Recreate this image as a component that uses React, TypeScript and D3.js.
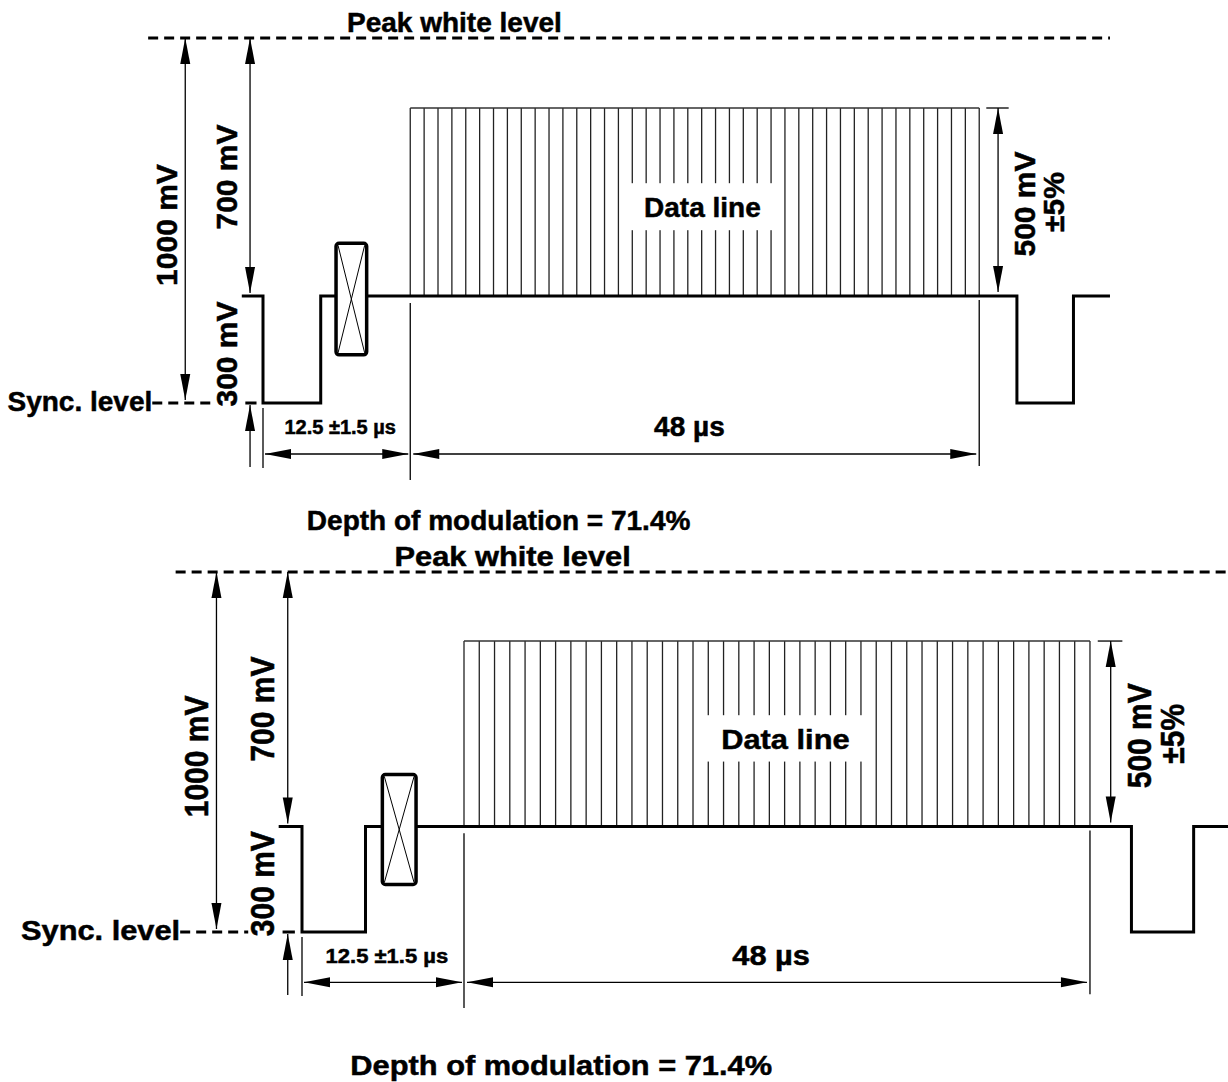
import React, { useEffect, useRef } from 'react';
import * as d3 from 'd3';

// signal levels in mV (sync tip, black, data "1", peak white)
const LEVEL_MV = [0, 300, 800, 1000];

// one TV line, time in µs from the leading edge of line sync
const WAVE_T = [-1.8, 0, 0, 4.9, 4.9, 64, 64, 68.8, 68.8, 71.9];
const WAVE_MV = [300, 300, 0, 0, 300, 300, 0, 0, 300, 300];

// colour burst box
const BURST_T = [6.2, 8.8];
const BURST_MV = [135, 440];

// data line
const DATA_T = [12.5, 60.8];
const DATA_MV = [300, 800];
const DATA_BITS = 41;
const DATA_GAP_MV = [475, 600];
const DATA_GAP_BITS = [15.5, 26.5];

// texts
const TITLE = 'Peak white level';
const SYNC_LABEL = 'Sync. level';
const DATA_LABEL = 'Data line';
const CAPTION = 'Depth of modulation = 71.4%';
const V_LABELS = ['1000 mV', '700 mV', '300 mV', '500 mV', '±5%'];
const T_LABELS = ['12.5 ±1.5 µs', '48 µs'];

// the two panels: same drawing, the lower one a bit wider
const PANEL_X0 = [263, 302];
const PANEL_PX_PER_US = [11.78, 12.96];
const PANEL_PEAK_Y = [38, 572];
const PANEL_SYNC_Y = [403, 932];
const PANEL_CAPTION_Y = [530, 1075];

const FONT = '"Liberation Sans", Arial, Helvetica, sans-serif';
const HEAD_L = 26;
const HEAD_W = 5;

const App: React.FC = () => {
  const svgRef = useRef<SVGSVGElement>(null);

  useEffect(() => {
    const svg = d3.select(svgRef.current);
    svg.selectAll('*').remove();

    PANEL_X0.forEach((x0, i) => {
      const g = svg.append('g');
      const ppu = PANEL_PX_PER_US[i];
      const k = ppu / PANEL_PX_PER_US[0];

      const x = d3.scaleLinear().domain([0, 64]).range([x0, x0 + 64 * ppu]);
      // layout units: top-panel pixels below the peak white line
      const ly = d3.scaleLinear().domain([0, 365]).range([PANEL_PEAK_Y[i], PANEL_SYNC_Y[i]]);
      const y = d3.scaleLinear().domain(LEVEL_MV).range([365, 258, 70, 0].map(ly));

      const line = (x1: number, y1: number, x2: number, y2: number, w = 1.3) =>
        g.append('line')
          .attr('x1', x1).attr('y1', y1).attr('x2', x2).attr('y2', y2)
          .attr('stroke', '#000').attr('stroke-width', w);

      const head = (tx: number, ty: number, dx: number, dy: number) => {
        const bx = tx - dx * HEAD_L;
        const by = ty - dy * HEAD_L;
        g.append('path')
          .attr('d', `M${tx},${ty}L${bx - dy * HEAD_W},${by + dx * HEAD_W}L${bx + dy * HEAD_W},${by - dx * HEAD_W}Z`)
          .attr('fill', '#000');
      };

      const label = (t: number, yy: number, txt: string, size: number, rotate = false, anchor = 'middle') =>
        g.append('text')
          .attr('transform', `translate(${x(t)},${yy}) scale(${k},1)${rotate ? ' rotate(-90)' : ''}`)
          .attr('text-anchor', anchor)
          .attr('dy', rotate ? '0.36em' : null)
          .attr('font-family', FONT)
          .attr('font-weight', 'bold')
          .attr('font-size', size)
          .attr('fill', '#000')
          .attr('stroke', '#000')
          .attr('stroke-width', 0.5)
          .text(txt);

      // peak white dashed line + title
      line(x(-9.75), y(1000), x(71.9), y(1000), 3).attr('stroke-dasharray', '10,6');
      label(16.25, ly(-6), TITLE, 28);

      // data stripes
      const bit = d3.scaleLinear().domain([0, DATA_BITS]).range(DATA_T);
      d3.range(DATA_BITS + 1).forEach(b => {
        line(x(bit(b)), y(DATA_MV[0]), x(bit(b)), y(DATA_MV[1]), 1.3).attr('stroke', '#222');
      });
      line(x(DATA_T[0]), y(DATA_MV[1]), x(DATA_T[1]), y(DATA_MV[1]), 1.5).attr('stroke', '#333');
      g.append('rect')
        .attr('x', x(bit(DATA_GAP_BITS[0])))
        .attr('width', x(bit(DATA_GAP_BITS[1])) - x(bit(DATA_GAP_BITS[0])))
        .attr('y', y(DATA_GAP_MV[1]))
        .attr('height', y(DATA_GAP_MV[0]) - y(DATA_GAP_MV[1]))
        .attr('fill', '#fff');
      label(37.3, ly(179), DATA_LABEL, 28);

      // waveform
      const wave = d3.line<number>()
        .x((_, j) => x(WAVE_T[j]))
        .y((_, j) => y(WAVE_MV[j]));
      g.append('path')
        .attr('d', wave(WAVE_T))
        .attr('fill', 'none')
        .attr('stroke', '#000')
        .attr('stroke-width', 3)
        .attr('stroke-linejoin', 'miter');

      // colour burst box
      const bx1 = x(BURST_T[0]), bx2 = x(BURST_T[1]);
      const by1 = y(BURST_MV[1]), by2 = y(BURST_MV[0]);
      g.append('rect')
        .attr('x', bx1).attr('y', by1)
        .attr('width', bx2 - bx1).attr('height', by2 - by1)
        .attr('rx', 3)
        .attr('fill', '#fff')
        .attr('stroke', '#000')
        .attr('stroke-width', 3.5);
      line(bx1 + 2, by1 + 2, bx2 - 2, by2 - 2, 1);
      line(bx2 - 2, by1 + 2, bx1 + 2, by2 - 2, 1);

      // 1000 mV
      line(x(-6.6), y(1000), x(-6.6), ly(362));
      head(x(-6.6), y(1000), 0, -1);
      head(x(-6.6), ly(362), 0, 1);
      label(-8.2, ly(187), V_LABELS[0], 30, true);

      // 700 mV
      line(x(-1.1), y(1000), x(-1.1), ly(255));
      head(x(-1.1), y(1000), 0, -1);
      head(x(-1.1), ly(255), 0, 1);
      label(-3.1, ly(139), V_LABELS[1], 30, true);

      // 300 mV
      line(x(-1.1), ly(367), x(-1.1), ly(429));
      head(x(-1.1), ly(367), 0, -1);
      label(-3.1, ly(316), V_LABELS[2], 30, true);

      // 500 mV ±5%
      line(x(61.4), y(800), x(63.3), y(800));
      line(x(62.4), y(800), x(62.4), ly(254));
      head(x(62.4), y(800), 0, -1);
      head(x(62.4), ly(254), 0, 1);
      label(64.6, ly(166), V_LABELS[3], 30, true);
      label(67.1, ly(164), V_LABELS[4], 30, true);

      // sync level label and dashes
      label(-9.4, ly(373), SYNC_LABEL, 28, false, 'end');
      line(x(-9.4), y(0), x(-4.15), y(0), 3).attr('stroke-dasharray', '10,6');
      line(x(-1.5), y(0), x(-0.55), y(0), 3);

      // time dimensions
      line(x(0), ly(370), x(0), ly(430));
      line(x(12.5), ly(265), x(12.5), ly(442));
      line(x(60.8), ly(262), x(60.8), ly(428));
      const dy = ly(416);
      line(x(0) + 2, dy, x(12.5) - 2, dy);
      head(x(0) + 2, dy, -1, 0);
      head(x(12.5) - 2, dy, 1, 0);
      line(x(12.5) + 3, dy, x(60.8) - 3, dy);
      head(x(12.5) + 3, dy, -1, 0);
      head(x(60.8) - 3, dy, 1, 0);
      label(6.55, ly(396), T_LABELS[0], 20);
      label(36.2, ly(398), T_LABELS[1], 28);

      // caption
      label(20, PANEL_CAPTION_Y[i], CAPTION, 28);
    });
  }, []);

  return (
    <svg
      ref={svgRef}
      width={1228}
      height={1082}
      style={{ position: 'absolute', left: 0, top: 0, background: '#fff' }}
    />
  );
};

export default App;
